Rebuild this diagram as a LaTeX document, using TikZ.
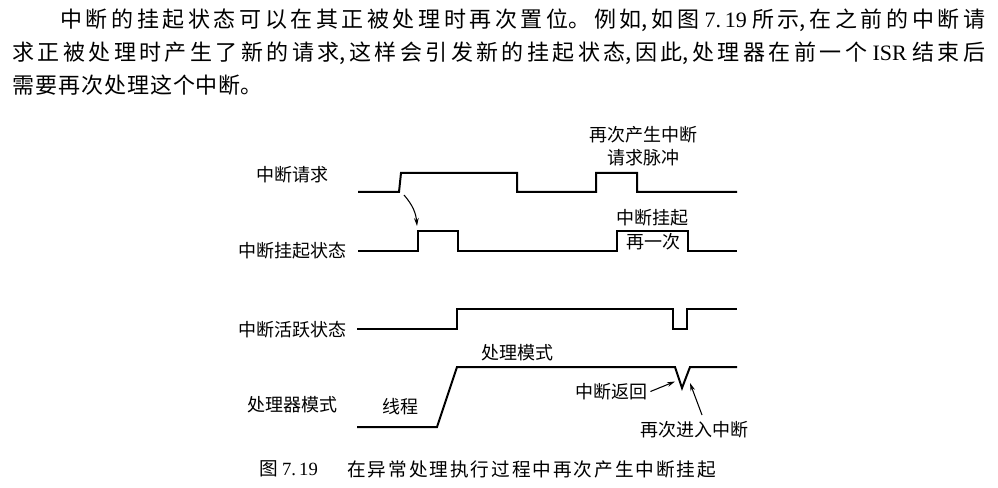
\documentclass[tikz,border=0pt]{standalone}
\usepackage{fontspec}
\setmainfont{Noto Sans CJK SC}
\newfontfamily\latinfont{Liberation Serif}
\usetikzlibrary{arrows.meta}
\XeTeXlinebreaklocale "zh"
\XeTeXlinebreakskip=0pt plus 1pt
\newcommand\jline[3]{\parbox[b]{#1}{\fontsize{#2}{#2}\selectfont\XeTeXlinebreakskip=0.6pt plus 8pt\relax\tolerance=10000\hbadness=10000\parfillskip=0pt\noindent #3}}
\begin{document}
\begin{tikzpicture}[x=0.75pt,y=-0.75pt,
  wave/.style={line width=1.5pt, line join=miter},
  lbl/.style={font=\fontsize{13.5pt}{17.25pt}\selectfont, inner sep=0pt},
  ptr/.style={line width=0.8pt, -{Stealth[length=6pt,width=3.5pt]}},
]
\useasboundingbox[fill=white] (0,0) rectangle (998,488);

% paragraph
\node[anchor=base west, inner sep=0pt] (p1) at (60,28)
  {\jline{693.75pt}{16.5pt}{中断的挂起状态可以在其正被处理时再次置位。例如,如图 {\latinfont 7.\,19} 所示,在之前的中断请}};
\node[anchor=base west, inner sep=0pt] (p2) at (12,61)
  {\jline{729.75pt}{16.5pt}{求正被处理时产生了新的请求,这样会引发新的挂起状态,因此,处理器在前一个 {\latinfont ISR} 结束后}};
\node[anchor=base west, inner sep=0pt] (p3) at (12,94)
  {\jline{188pt}{16.5pt}{需要再次处理这个中断。}};

% row labels
\node[lbl] (L1) at (292,175) {中断请求};
\node[lbl] (L2) at (292,250.5) {中断挂起状态};
\node[lbl] (L3) at (292,330) {中断活跃状态};
\node[lbl] (L4) at (292,405) {处理器模式};

% annotations
\node[lbl, align=center] (pulse) at (643,146.5) {再次产生中断\\请求脉冲};
\node[lbl] (pend) at (652,218) {中断挂起};
\node[lbl] (again) at (653,242) {再一次};
\node[lbl] (proc) at (517,353) {处理模式};
\node[lbl] (thr) at (400,406.5) {线程};
\node[lbl] (ret) at (611.5,391.5) {中断返回};
\node[lbl] (reent) at (694,430) {再次进入中断};

% waveforms
\draw[wave] (358,192) -- (399,192) -- (401,173) -- (517,173) -- (517,192)
  -- (596,192) -- (596,173) -- (637,173) -- (637,192) -- (737,192);
\draw[wave] (358,250.5) -- (418,250.5) -- (418,231) -- (458,231) -- (458,250.5)
  -- (617,250.5) -- (617,231) -- (688,231) -- (688,250.5) -- (737,250.5);
\draw[wave] (357,329) -- (457,329) -- (457,308.5) -- (673,308.5) -- (673,329)
  -- (687,329) -- (687,308.5) -- (737,308.5);
\draw[wave] (357,427) -- (437,427) -- (457,367) -- (675,367) -- (682,388)
  -- (690,367) -- (737,367);

% arrows
\coordinate (a1s) at (404,195);
\coordinate (a1e) at (417,226);
\draw[ptr] (a1s) to[bend left=18] (a1e);
\coordinate (retTip) at (675,381.5);
\draw[ptr] ([xshift=2pt]ret.east) -- (retTip);
\coordinate (reS) at (702,415);
\coordinate (reTip) at (690,383);
\draw[ptr] (reS) -- (reTip);

% caption
\node[anchor=west, inner sep=0pt, font=\fontsize{14pt}{14pt}\selectfont] (capnum) at (259,469) {图 {\latinfont 7.\,19}};
\node[anchor=west, inner sep=0pt] (cap) at (347,469)
  {\jline{276.75pt}{14pt}{在异常处理执行过程中再次产生中断挂起}};
\end{tikzpicture}
\end{document}
